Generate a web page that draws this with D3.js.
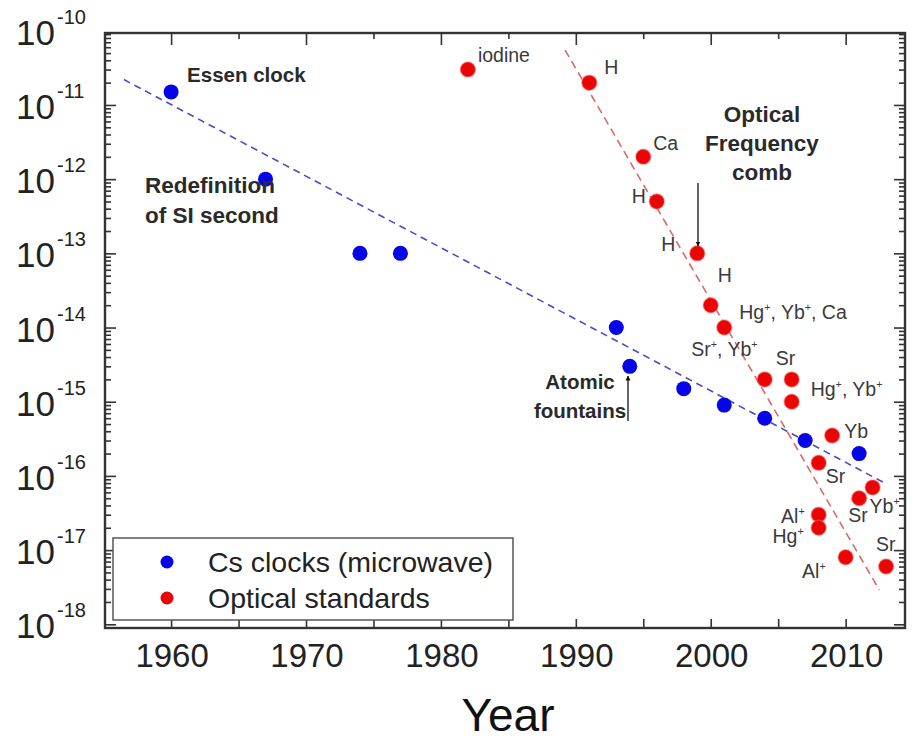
<!DOCTYPE html>
<html>
<head>
<meta charset="utf-8">
<script src="https://cdn.jsdelivr.net/npm/d3@7"></script>
<style>
  body { margin: 0; background: #fff; }
  svg { display: block; }
</style>
</head>
<body>
<div id="chart"></div>
<script>
// Values.
const seriesNames = ["Cs clocks (microwave)", "Optical standards"];

const csYears = [1960, 1967, 1974, 1977, 1993, 1994, 1998, 2001, 2004, 2007, 2011];
const csValues = [1.5e-11, 1e-12, 1e-13, 1e-13, 1e-14, 3e-15, 1.5e-15, 9e-16, 6e-16, 3e-16, 2e-16];

const opticalYears = [1982, 1991, 1995, 1996, 1999, 2000, 2001, 2004, 2006, 2006, 2009, 2008, 2012, 2011, 2008, 2008, 2010, 2013];
const opticalValues = [3e-11, 2e-11, 2e-12, 5e-13, 1e-13, 2e-14, 1e-14, 2e-15, 2e-15, 1e-15, 3.5e-16, 1.5e-16, 7e-17, 5e-17, 3e-17, 2e-17, 8e-18, 6e-18];

// label text and the index of the optical point it belongs to
const opticalLabels = ["iodine", "H", "Ca", "H", "H", "H", "Hg+, Yb+, Ca", "Sr+, Yb+", "Sr", "Hg+, Yb+", "Yb", "Sr", "Yb+", "Sr", "Al+", "Hg+", "Al+", "Sr"];
const opticalLabelPoint = [0, 1, 2, 3, 4, 5, 6, 6, 7, 9, 10, 11, 12, 13, 14, 15, 16, 17];

// dashed trend lines (end points)
const csTrendYears = [1956.5, 2012.9];
const csTrendValues = [2.2e-11, 8e-17];
const opticalTrendYears = [1989.2, 2012.5];
const opticalTrendValues = [5.5e-11, 2.9e-18];

const xTicks = [1960, 1970, 1980, 1990, 2000, 2010];
const xMinorTicks = [1965, 1975, 1985, 1995, 2005];
const yExponents = [-10, -11, -12, -13, -14, -15, -16, -17, -18];

// Chart
const width = 912, height = 741;
const blue = "#0505e8", red = "#ea0505";

const x = d3.scaleLinear().domain([1955.1, 2014.4]).range([105, 905]);
const y = d3.scaleLog().domain([Math.pow(10, -18.05), Math.pow(10, -10.03)]).range([628, 33]);

const svg = d3.select("#chart").append("svg")
    .attr("width", width)
    .attr("height", height)
    .attr("font-family", "'Liberation Sans', Arial, sans-serif");

// tick values for the log axis
const inRange = v => v >= y.domain()[0] && v <= y.domain()[1];
const yMajor = yExponents.map(e => Math.pow(10, e)).filter(inRange);
const yMinor = [];
yExponents.forEach(e => { for (let k = 2; k < 10; k++) yMinor.push(k * Math.pow(10, e)); });
const yMinorIn = yMinor.filter(inRange);

function tickAxis(axis, tx) {
    const g = svg.append("g").attr("transform", tx).call(axis);
    g.select(".domain").remove();
    g.selectAll(".tick line").attr("stroke", "#333").attr("stroke-width", 1.6);
    g.selectAll(".tick text").remove();
    return g;
}

// inward ticks on all four sides
tickAxis(d3.axisLeft(y).tickValues(yMajor).tickSize(-11), "translate(105,0)");
tickAxis(d3.axisLeft(y).tickValues(yMinorIn).tickSize(-6), "translate(105,0)");
tickAxis(d3.axisRight(y).tickValues(yMajor).tickSize(-11), "translate(905,0)");
tickAxis(d3.axisRight(y).tickValues(yMinorIn).tickSize(-6), "translate(905,0)");
tickAxis(d3.axisBottom(x).tickValues(xTicks).tickSize(-9), "translate(0,628)");
tickAxis(d3.axisBottom(x).tickValues(xMinorTicks).tickSize(-9), "translate(0,628)");
tickAxis(d3.axisTop(x).tickValues(xTicks).tickSize(-12), "translate(0,33)");
tickAxis(d3.axisTop(x).tickValues(xMinorTicks).tickSize(-6), "translate(0,33)");

// frame
svg.append("rect")
    .attr("x", x.range()[0]).attr("y", y.range()[1])
    .attr("width", x.range()[1] - x.range()[0])
    .attr("height", y.range()[0] - y.range()[1])
    .attr("fill", "none").attr("stroke", "#333").attr("stroke-width", 2.4);

// y labels 10^n
const yl = svg.append("g").attr("fill", "#222");
yExponents.forEach(e => {
    const py = y(Math.pow(10, e));
    yl.append("text").attr("x", 16).attr("y", py + 14)
        .attr("font-size", 35)
        .text("10");
    yl.append("text").attr("x", 57).attr("y", py - 7)
        .attr("font-size", 20).text("-" + (-e));
});

// x labels
svg.append("g").selectAll("text").data(xTicks).join("text")
    .attr("x", d => x(d) + 1).attr("y", 667)
    .attr("text-anchor", "middle").attr("font-size", 33).attr("fill", "#222")
    .text(d => d);

svg.append("text").attr("x", 508).attr("y", 731)
    .attr("text-anchor", "middle").attr("font-size", 46).attr("fill", "#111")
    .text("Year");

// trend lines
const line = d3.line().x(d => x(d[0])).y(d => y(d[1]));
svg.append("path")
    .attr("d", line(d3.zip(csTrendYears, csTrendValues)))
    .attr("fill", "none").attr("stroke", "#4c4cc4").attr("stroke-width", 1.6)
    .attr("stroke-dasharray", "7,5");
svg.append("path")
    .attr("d", line(d3.zip(opticalTrendYears, opticalTrendValues)))
    .attr("fill", "none").attr("stroke", "#d86a6a").attr("stroke-width", 1.6)
    .attr("stroke-dasharray", "8,5");

// points
svg.append("g").selectAll("circle").data(d3.zip(csYears, csValues)).join("circle")
    .attr("cx", d => x(d[0])).attr("cy", d => y(d[1])).attr("r", 7.5)
    .attr("fill", blue);
svg.append("g").selectAll("circle").data(d3.zip(opticalYears, opticalValues)).join("circle")
    .attr("cx", d => x(d[0])).attr("cy", d => y(d[1])).attr("r", 7.5)
    .attr("fill", red).attr("stroke", "rgba(255,90,90,0.45)").attr("stroke-width", 1.5);

// text with superscript "+"
function richText(el, str) {
    const parts = str.split("+");
    let raised = false;
    parts.forEach((p, i) => {
        if (p) {
            el.append("tspan").attr("dy", raised ? 8 : null).text(p);
            raised = false;
        }
        if (i < parts.length - 1) {
            el.append("tspan").attr("dy", raised ? null : -8).attr("font-size", "0.55em").text("+");
            raised = true;
        }
    });
}

// offsets of each point label from its point: [dx, dy, anchor]
const labelOffsets = [
    [10, -8, "start"], [15, -9, "start"], [10, -7, "start"], [-11, 2, "end"],
    [-22, -2, "end"], [7, -23, "start"], [15, -9, "start"], [-33, 28, "start"],
    [11, -14, "start"], [19, -6, "start"], [12, 2, "start"], [7, 20, "start"],
    [-3, 26, "start"], [-11, 24, "start"], [-14, 8, "end"], [-15, 15, "end"],
    [-20, 21, "end"], [-10, -16, "start"]
];
const lab = svg.append("g").attr("fill", "#3a3a3a").attr("font-size", 19.5);
opticalLabels.forEach((t, i) => {
    const p = opticalLabelPoint[i];
    const o = labelOffsets[i];
    const el = lab.append("text")
        .attr("x", x(opticalYears[p]) + o[0])
        .attr("y", y(opticalValues[p]) + o[1])
        .attr("text-anchor", o[2]);
    richText(el, t);
});

// bold annotations
const ann = svg.append("g").attr("font-weight", "bold").attr("fill", "#2a2a2a").attr("font-size", 22.5);
ann.append("text").attr("x", x(csYears[0]) + 16).attr("y", y(csValues[0]) - 10).attr("font-size", 20.5).text("Essen clock");
ann.append("text").attr("x", 145).attr("y", 193).text("Redefinition");
ann.append("text").attr("x", 145).attr("y", 223).text("of SI second");
ann.append("text").attr("x", 762).attr("y", 122).attr("text-anchor", "middle").text("Optical");
ann.append("text").attr("x", 762).attr("y", 151).attr("text-anchor", "middle").text("Frequency");
ann.append("text").attr("x", 762).attr("y", 180).attr("text-anchor", "middle").text("comb");
ann.append("text").attr("x", 580).attr("y", 389).attr("font-size", 20.5).attr("text-anchor", "middle").text("Atomic");
ann.append("text").attr("x", 580).attr("y", 418).attr("font-size", 20.5).attr("text-anchor", "middle").text("fountains");

// arrows
svg.append("defs").append("marker")
    .attr("id", "arrow").attr("viewBox", "0 0 10 10")
    .attr("refX", 9).attr("refY", 5)
    .attr("markerWidth", 5).attr("markerHeight", 7)
    .attr("markerUnits", "userSpaceOnUse")
    .attr("orient", "auto")
    .append("path").attr("d", "M0,0 L10,5 L0,10 z").attr("fill", "#111");
svg.append("line").attr("x1", 628).attr("y1", 421).attr("x2", 628).attr("y2", 376)
    .attr("stroke", "#111").attr("stroke-width", 1.3).attr("marker-end", "url(#arrow)");
svg.append("line").attr("x1", 698).attr("y1", 183).attr("x2", 698).attr("y2", 246)
    .attr("stroke", "#111").attr("stroke-width", 1.3).attr("marker-end", "url(#arrow)");

// legend
const legend = svg.append("g");
legend.append("rect").attr("x", 113).attr("y", 538).attr("width", 400).attr("height", 82)
    .attr("fill", "#fff").attr("stroke", "#555").attr("stroke-width", 1.5);
const legendColors = [blue, red];
seriesNames.forEach((name, i) => {
    legend.append("circle").attr("cx", 167).attr("cy", 562 + i * 36).attr("r", 6.5).attr("fill", legendColors[i]);
    legend.append("text").attr("x", 208).attr("y", 572 + i * 36)
        .attr("font-size", 28.5).attr("fill", "#222").text(name);
});
</script>
</body>
</html>
